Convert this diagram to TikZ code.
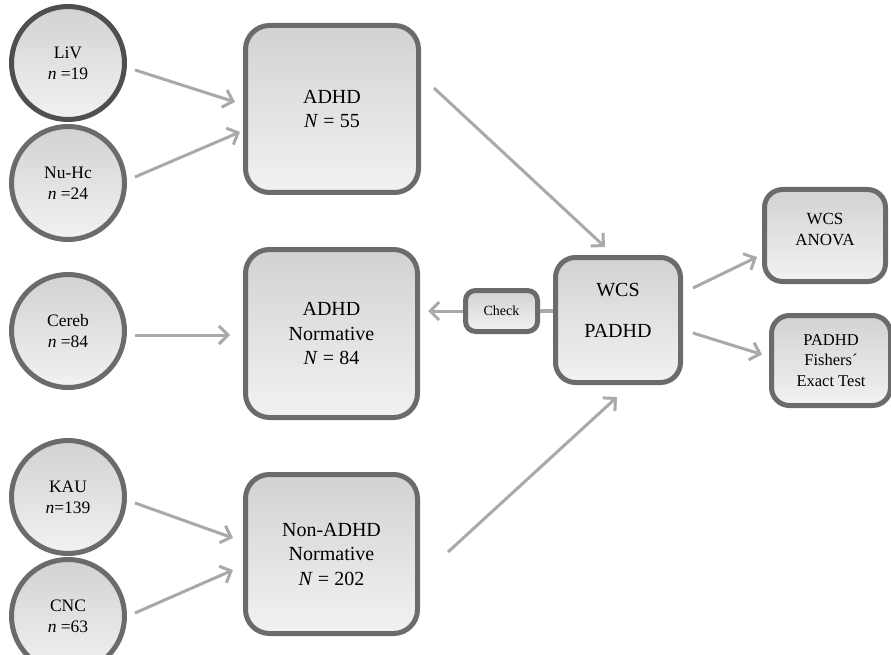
\documentclass[tikz,border=0pt]{standalone}
\usepackage{fontspec}
\setmainfont{Liberation Serif}
\usetikzlibrary{arrows.meta,calc}
\definecolor{rim}{HTML}{6B6B6B}
\definecolor{rimdark}{HTML}{4F4F4F}
\definecolor{shadetop}{HTML}{D2D2D2}
\definecolor{shadebot}{HTML}{F2F2F2}
\definecolor{link}{HTML}{A9A9A9}

\begin{document}
\begin{tikzpicture}[x=1pt,y=-1pt,
  src/.style={circle, draw=rim, line width=5pt, top color=shadetop, bottom color=shadebot,
    minimum size=113pt, inner sep=0pt, align=center, font=\fontsize{17.5}{21}\selectfont},
  grp/.style={rounded corners=24pt, draw=rim, line width=5pt, top color=shadetop, bottom color=shadebot,
    inner sep=0pt, align=center, font=\fontsize{20}{24.5}\selectfont},
  flow/.style={draw=link, line width=3pt, -{Straight Barb[length=9pt,width=18pt]}},
]
\useasboundingbox (0,0) rectangle (891,655);

% study samples
\node[src, draw=rimdark] (liv) at (68,63) {LiV\\\textit{n} =19};
\node[src] (nuhc)  at (68,183) {Nu-Hc\\\textit{n} =24};
\node[src] (cereb) at (68,331) {Cereb\\\textit{n} =84};
\node[src] (kau)   at (68,497) {KAU\\\textit{n}=139};
\node[src] (cnc)   at (68,616) {CNC\\\textit{n} =63};

% pooled groups
\node[grp, minimum width=173pt, minimum height=167pt] (adhd) at (332,109) {ADHD\\\textit{N} = 55};
\node[grp, minimum width=172pt, minimum height=168pt] (adhdnorm) at (331.5,333.5) {ADHD\\Normative\\\textit{N} = 84};
\node[grp, minimum width=172pt, minimum height=159pt] (nonadhd) at (331.5,554) {Non-ADHD\\Normative\\\textit{N} = 202};

% analysis
\node[grp, rounded corners=10pt, minimum width=72pt, minimum height=41pt,
  font=\fontsize{14}{17}\selectfont] (check) at (501.5,311) {Check};
\node[grp, rounded corners=20pt, minimum width=125pt, minimum height=125pt,
  font=\fontsize{20}{23}\selectfont] (wcs) at (618,320)
  {\raisebox{8pt}[\height][\depth]{\begin{tabular}{@{}c@{}}WCS\\[18pt]PADHD\end{tabular}}};
\node[grp, rounded corners=18pt, minimum width=121pt, minimum height=92pt,
  font=\fontsize{17}{21}\selectfont] (anova) at (825,235.5)
  {\raisebox{5pt}[\height][\depth]{\begin{tabular}{@{}c@{}}WCS\\ANOVA\end{tabular}}};
\node[grp, rounded corners=18pt, minimum width=119pt, minimum height=90pt,
  font=\fontsize{16.5}{20.5}\selectfont] (fisher) at (831,360.5) {PADHD\\Fishers\textasciiacute\\Exact Test};

% connectors
\draw[flow] ([xshift=8pt,yshift=-7pt]liv.east) -- ([xshift=-8pt,yshift=7pt]adhd.west);
\draw[flow] ([xshift=8pt,yshift=6pt]nuhc.east) -- ([xshift=-3pt,yshift=-23pt]adhd.west);
\draw[flow] ([xshift=8pt,yshift=-4pt]cereb.east) -- ([xshift=-13pt,yshift=-1.5pt]adhdnorm.west);
\draw[flow] ([xshift=8pt,yshift=-6pt]kau.east) -- ([xshift=-10pt,yshift=16pt]nonadhd.west);
\draw[flow] ([xshift=8pt,yshift=3pt]cnc.east) -- ([xshift=-10pt,yshift=-16pt]nonadhd.west);
\draw[flow] ([xshift=13pt,yshift=21pt]adhd.east) -- ([xshift=-13pt,yshift=8pt]wcs.north);
\draw[flow] ([xshift=28pt,yshift=2pt]nonadhd.east) -- ([xshift=-1pt,yshift=-12pt]wcs.south);
\draw[flow, shorten >=8pt] (check.west) -- (check.west -| adhdnorm.east);
\draw[draw=link, line width=4pt] (check.east) -- (check.east -| wcs.west);
\draw[flow] ([xshift=10pt,yshift=32pt]wcs.east) -- ([xshift=-5pt,yshift=-21.5pt]anova.west);
\draw[flow] ([xshift=10pt,yshift=-13pt]wcs.east) -- ([xshift=-7pt,yshift=6pt]fisher.west);
\end{tikzpicture}
\end{document}
